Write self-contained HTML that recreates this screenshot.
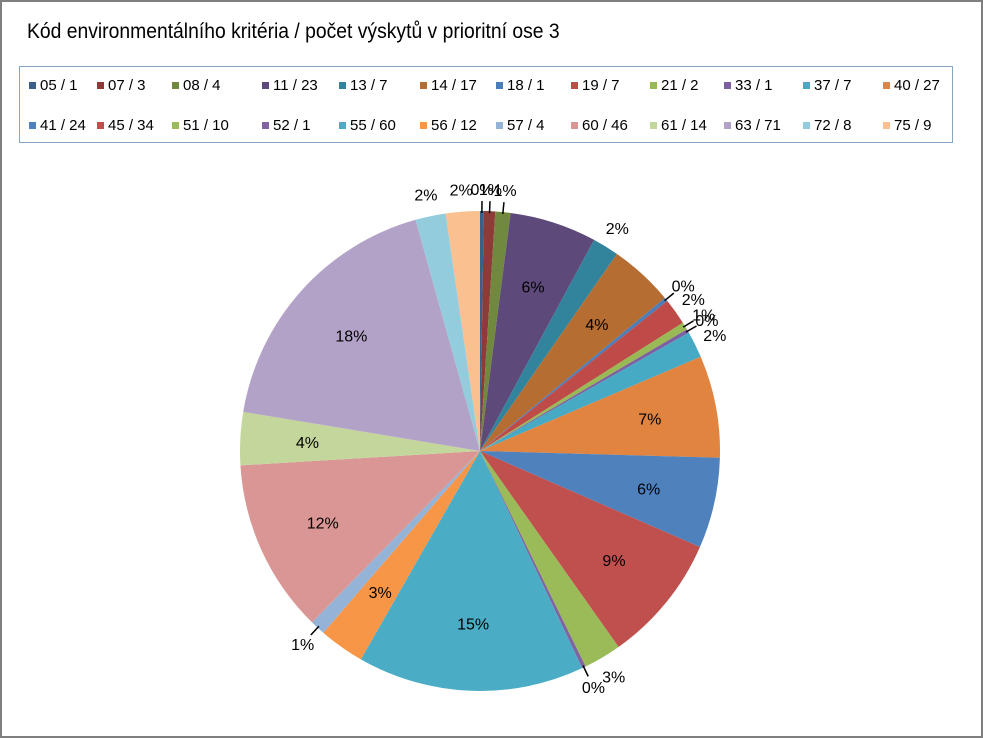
<!DOCTYPE html>
<html><head><meta charset="utf-8"><style>
body{margin:0;background:#fff;}
#wrap{position:relative;width:983px;height:738px;box-sizing:border-box;border:2px solid #7f7f7f;background:#fff;font-family:"Liberation Sans",sans-serif;overflow:hidden}
#title{position:absolute;left:25px;top:18px;font-size:21px;color:#000;white-space:nowrap;transform:scaleX(0.92);transform-origin:left}
#legend{position:absolute;left:17px;top:64px;width:934px;height:77px;border:1px solid #86a6c6;box-sizing:border-box}
.le{position:absolute;font-size:15px;white-space:nowrap;color:#000}
.le i{display:inline-block;width:7px;height:7px;margin-right:4px;vertical-align:1px}
svg{position:absolute;left:0;top:0}
</style></head><body>
<div id="wrap">
<div id="title">Kód environmentálního kritéria / počet výskytů v prioritní ose 3</div>
<div id="legend"></div>
<svg id="pie" width="983" height="738"></svg>
</div>
<script>
const categories=["05","07","08","11","13","14","18","19","21","33","37","40","41","45","51","52","55","56","57","60","61","63","72","75"];
const counts=[1,3,4,23,7,17,1,7,2,1,7,27,24,34,10,1,60,12,4,46,14,71,8,9];
const colors=["#3a5f8b","#8e3b38","#71893f","#5e4a7a","#31849b","#b66d31","#4a7ebb","#be4b48","#98b954","#7d60a0","#46aac5","#e0843f","#4f81bd","#c0504d","#9bbb59","#8064a2","#4bacc6","#f79646","#95b3d7","#d99694","#c3d69b","#b3a2c7","#93cddd","#fac090"];
const NS="http://www.w3.org/2000/svg";
const legend=document.getElementById('legend');
const colX=[9,77,152,242,319,400,476,551,630,704,783,863];
categories.forEach((c,i)=>{
  const d=document.createElement('div');
  d.className='le';
  
  
  d.style.left=colX[i%12]+'px';
  d.style.top=(i<12?10:50)+'px';
  d.innerHTML='<i style="background:'+colors[i]+'"></i>'+c+' / '+counts[i];
  legend.appendChild(d);
});
const svg=document.getElementById('pie');
const cx=478,cy=449,r=240;
const total=counts.reduce((a,b)=>a+b,0);
function pt(a,rr){return [cx+rr*Math.sin(a),cy-rr*Math.cos(a)];}
let acc=0;
counts.forEach((v,i)=>{
  const a0=acc/total*2*Math.PI;acc+=v;const a1=acc/total*2*Math.PI;
  const p0=pt(a0,r),p1=pt(a1,r);
  const path=document.createElementNS(NS,'path');
  path.setAttribute('d',`M${cx},${cy}L${p0[0]},${p0[1]}A${r},${r} 0 ${a1-a0>Math.PI?1:0} 1 ${p1[0]},${p1[1]}Z`);
  path.setAttribute('fill',colors[i]);
  
  
  svg.appendChild(path);
  const frac=v/total;const am=(a0+a1)/2;
  const t=document.createElementNS(NS,'text');
  let lp;
  if(frac>=0.03){lp=pt(am,r*0.72);}
  else{
    lp=pt(am,r+22);
    const l1=pt(am,r-2),l2=pt(am,r+10);
    const ln=document.createElementNS(NS,'line');
    ln.setAttribute('x1',l1[0]);ln.setAttribute('y1',l1[1]);ln.setAttribute('x2',l2[0]);ln.setAttribute('y2',l2[1]);
    ln.setAttribute('stroke','#000');ln.setAttribute('stroke-width','1.5');
    
    
    if(frac<0.012)svg.appendChild(ln);
  }
  t.setAttribute('x',lp[0]);t.setAttribute('y',lp[1]+6);
  t.setAttribute('text-anchor','middle');t.setAttribute('font-size','16');
  t.setAttribute('font-family','Liberation Sans, sans-serif');
  t.textContent=Math.round(frac*100)+'%';
  
  
  svg.appendChild(t);
});
</script>
</body></html>
